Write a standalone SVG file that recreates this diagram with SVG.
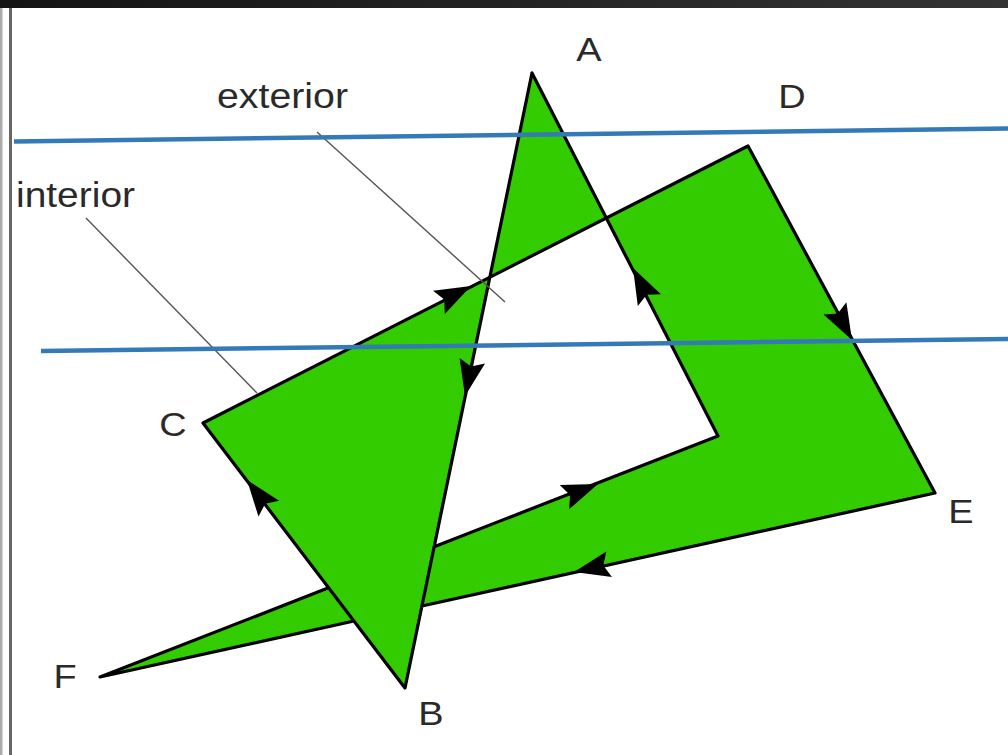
<svg xmlns="http://www.w3.org/2000/svg" width="1008" height="755" viewBox="0 0 1008 755">
  <defs>
    <linearGradient id="topbar" x1="0" y1="0" x2="1" y2="0">
      <stop offset="0" stop-color="#141414"/>
      <stop offset="1" stop-color="#333333"/>
    </linearGradient>
    <path id="ah" d="M0,0 L-36,-13 L-30,0 L-36,13 Z"/>
  </defs>
  <style>
    .fill { fill: #33cc00; stroke: none; fill-rule: nonzero; }
    .edge { fill: none; stroke: #000; stroke-width: 3.2; stroke-linejoin: round; stroke-linecap: round; }
    .arrow { fill: #000; }
    .leader { fill: none; stroke: #555; stroke-width: 1.4; }
    .guide { fill: none; stroke: #337ab7; stroke-width: 4.5; }
    .lbl { font-family: "Liberation Sans", Arial, sans-serif; font-size: 33px; fill: #2a2a2a; }
    .word { font-family: "Liberation Sans", Arial, sans-serif; font-size: 35px; fill: #2a2a2a; }
  </style>

  <rect x="0" y="0" width="1008" height="755" fill="#ffffff"/>
  <rect x="0" y="0" width="1008" height="8" fill="url(#topbar)"/>
  <rect x="0" y="8" width="2.5" height="747" fill="#aaaaaa"/>
  <rect x="9" y="8" width="3" height="747" fill="#666666"/>

  <g id="polygon">
    <path class="fill" d="M532,73 L405,688 L203,423 L748,146 L935,493 L100,677 L718,436 Z"/>
    <path class="edge" d="M532,73 L405,688 L203,423 L748,146 L935,493 L422,606 M354,621 L100,677 L328.6,587.8 M434.2,546.7 L718,436 L532,73"/>
  </g>

  <g id="connectors">
    <use href="#ah" class="arrow" transform="translate(465,396) rotate(101.7)"/>
    <use href="#ah" class="arrow" transform="translate(247,480) rotate(-127.3)"/>
    <use href="#ah" class="arrow" transform="translate(471,286) rotate(-26.95)"/>
    <use href="#ah" class="arrow" transform="translate(852,340) rotate(61.7)"/>
    <use href="#ah" class="arrow" transform="translate(574,572) rotate(167.6)"/>
    <use href="#ah" class="arrow" transform="translate(598,484) rotate(-21.3)"/>
    <use href="#ah" class="arrow" transform="translate(633,268) rotate(-117.1)"/>
    <line class="leader" x1="317" y1="132" x2="505" y2="302"/>
    <line class="leader" x1="86" y1="218" x2="257" y2="393"/>
  </g>

  <g id="guides">
    <line class="guide" x1="14" y1="141.5" x2="1008" y2="128.5"/>
    <line class="guide" x1="41" y1="351" x2="1008" y2="339"/>
  </g>

  <g id="labels">
    <text class="lbl" text-anchor="middle" transform="translate(589,61) scale(1.15,1)">A</text>
    <text class="lbl" text-anchor="middle" transform="translate(431,725) scale(1.15,1)">B</text>
    <text class="lbl" text-anchor="middle" transform="translate(173,436) scale(1.15,1)">C</text>
    <text class="lbl" text-anchor="middle" transform="translate(792,108) scale(1.15,1)">D</text>
    <text class="lbl" text-anchor="middle" transform="translate(961,523) scale(1.15,1)">E</text>
    <text class="lbl" text-anchor="middle" transform="translate(65,688) scale(1.15,1)">F</text>
    <text class="word" x="217" y="108" textLength="131" lengthAdjust="spacingAndGlyphs">exterior</text>
    <text class="word" x="16" y="207" textLength="119" lengthAdjust="spacingAndGlyphs">interior</text>
  </g>
</svg>
